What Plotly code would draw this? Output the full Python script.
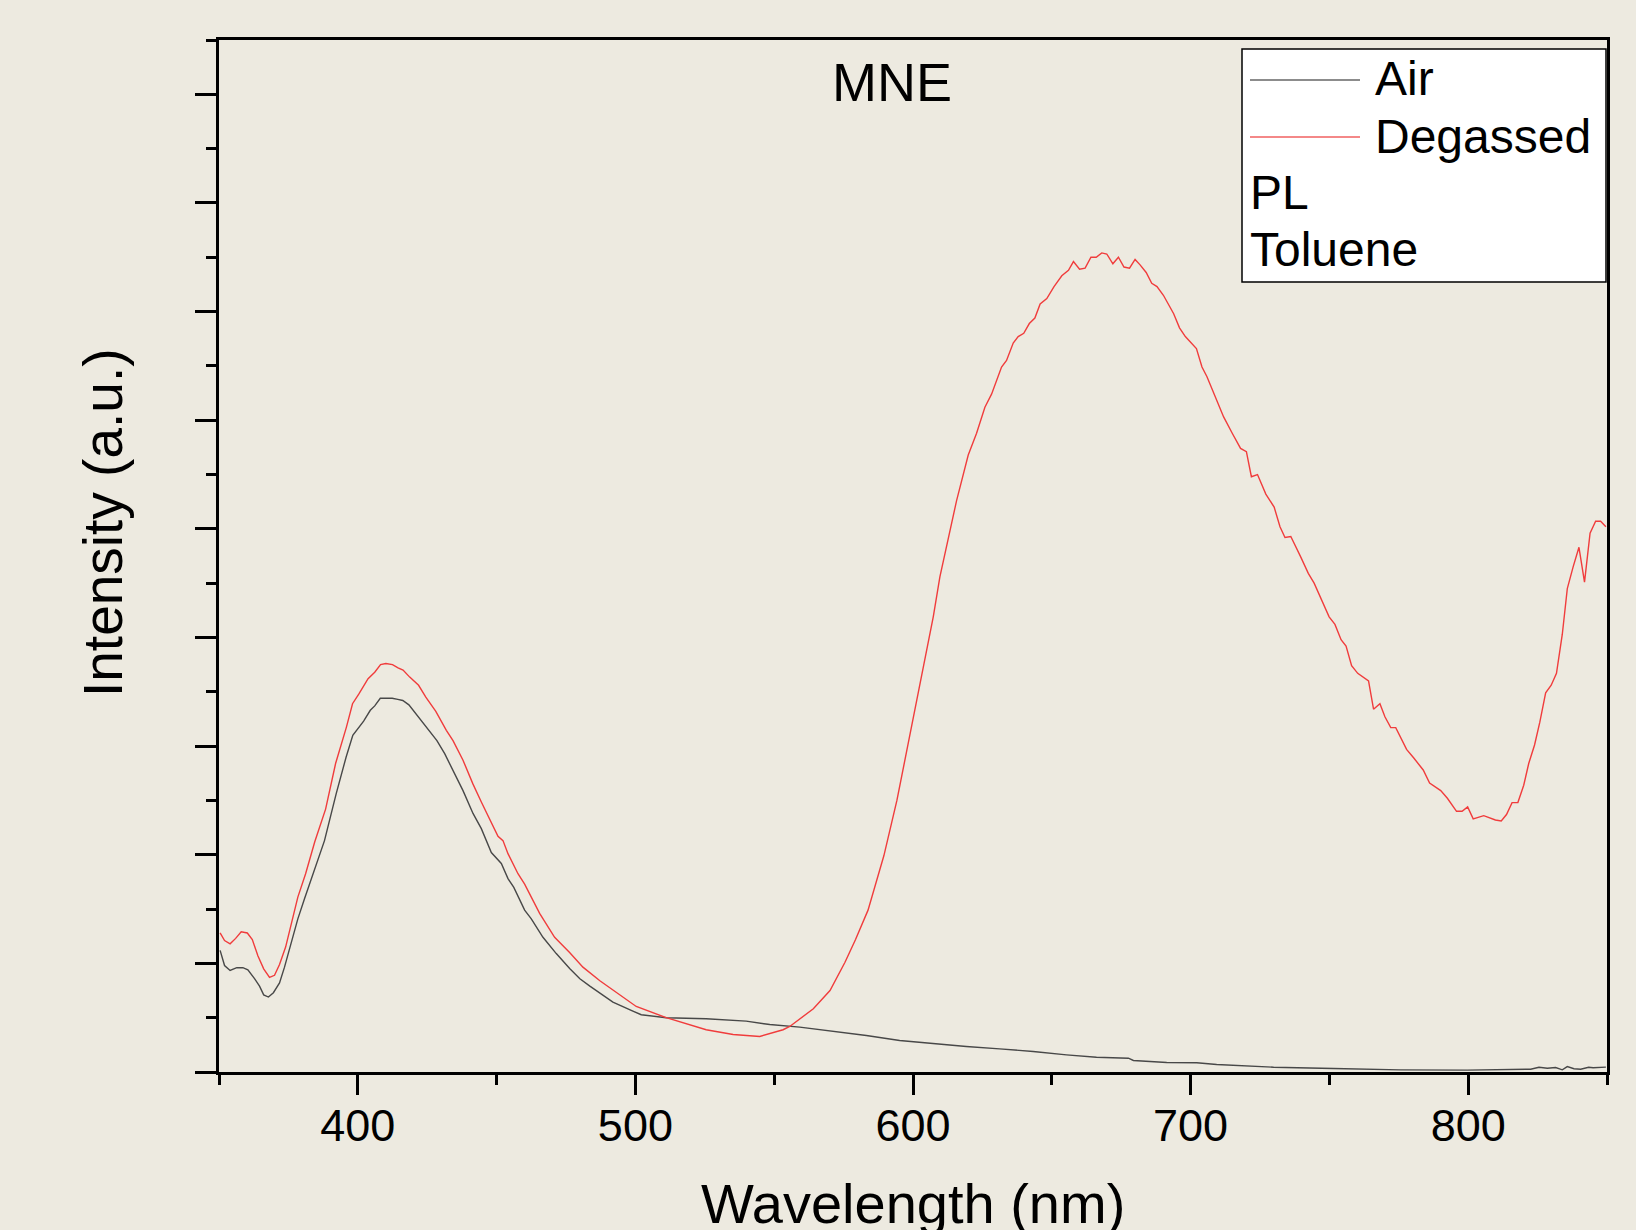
import plotly.graph_objects as go

# ---- data ----
air_nm = [350.4, 352, 354, 356.4, 358.6, 360.4, 362.8, 364.6, 366.1, 367.8, 369.6, 371.8, 373.6, 376,
          378.4, 380.8, 384.4, 388, 392.2, 395.8, 398.2, 400.4, 402.1, 404.5, 406.1, 408.1, 410.3, 412.4,
          414.4, 416.2, 418.4, 420.5, 423.5, 425.9, 428.5, 431.3, 434.1, 437.9, 441.5, 444.5, 448.1,
          451.7, 454.1, 456.2, 460.1, 462.5, 466.7, 471.5, 476.4, 480, 483.6, 487.2, 491.9, 499.1,
          502.1, 511.1, 525.5, 539.9, 548.4, 559.2, 571.2, 583.2, 595.2, 607.2, 619.2, 631.2, 643.3,
          655.3, 666.1, 677.6, 679.4, 691.4, 702.2, 709.4, 727.5, 729.9, 751.5, 775.5, 799.6, 822.5,
          825.5, 828.5, 831.5, 833.9, 835.7, 838.1, 840.5, 843.4, 845, 849.6]
air_int = [1.12, 0.98, 0.935, 0.96, 0.96, 0.94, 0.86, 0.79, 0.71, 0.69, 0.73, 0.82, 0.965, 1.195,
           1.41, 1.595, 1.855, 2.13, 2.56, 2.90, 3.10, 3.18, 3.23, 3.33, 3.37, 3.44, 3.44, 3.44,
           3.43, 3.42, 3.38, 3.31, 3.22, 3.13, 3.05, 2.93, 2.78, 2.59, 2.38, 2.24, 2.02,
           1.92, 1.78, 1.70, 1.49, 1.41, 1.24, 1.09, 0.95, 0.858, 0.79, 0.726, 0.643, 0.56,
           0.527, 0.50, 0.49, 0.468, 0.437, 0.413, 0.376, 0.336, 0.29, 0.26, 0.235, 0.213, 0.189,
           0.158, 0.136, 0.127, 0.106, 0.087, 0.085, 0.069, 0.053, 0.044, 0.032, 0.020, 0.017, 0.026,
           0.044, 0.035, 0.041, 0.02, 0.05, 0.03, 0.026, 0.044, 0.039, 0.045]

deg_nm = [350.4, 352, 354, 356, 358, 360.2, 362, 364, 366.1, 368.2, 370, 371.8, 374, 376, 378.4,
          381.2, 384.5, 388.4, 392, 395.9, 398.1, 400.4, 403.7, 406.1, 408.2, 410.1, 412.5, 414.5,
          416.3, 418.7, 421.9, 424.5, 428.1, 431.9, 434.3, 437.9, 441.5, 444.5, 446.3, 448.7, 450.5,
          452.3, 454.1, 457.7, 460.1, 465.5, 470.9, 476.3, 481.1, 487.2, 491.9, 500.3, 511.1, 525.5,
          535.2, 544.8, 553.2, 555.6, 564.1, 570.1, 575.5, 579.3, 583.8, 589.5, 594.2, 597.7, 602.5,
          607.3, 609.7, 613.3, 615.7, 619.9, 622.9, 625.9, 628.3, 631.9, 633.7, 636.1, 637.9, 639.9,
          641.9, 643.9, 645.8, 648.2, 650.8, 653.6, 656, 657.8, 660, 662, 664.1, 666, 668, 669.8,
          672, 674, 676, 678, 680, 681.8, 684, 686, 687.9, 690.2, 693.9, 696, 698.1, 702.1, 704.1,
          705.9, 708.9, 711.9, 715, 718, 720.1, 721.9, 724.1, 727.1, 730.1, 732.2, 734, 736.1, 739.7,
          742.4, 744.5, 749.9, 752, 754.2, 756, 758, 760.2, 764.1, 765.9, 768.2, 770, 772.1, 773.9,
          775.7, 777.8, 780.4, 783.8, 786.1, 790.1, 792.5, 795.8, 797.8, 799.8, 801.8, 805.6, 809.8,
          811.9, 813.8, 815.8, 817.9, 820, 821.8, 823.9, 825.8, 827.9, 829.9, 831.8, 833.9, 835.7,
          837.8, 839.9, 841.9, 843.9, 845.9, 847.7, 849.6]
deg_int = [1.28, 1.21, 1.18, 1.23, 1.29, 1.28, 1.22, 1.07, 0.95, 0.87, 0.89, 0.99, 1.15, 1.365, 1.61,
           1.825, 2.12, 2.42, 2.84, 3.175, 3.39, 3.48, 3.62, 3.68, 3.75, 3.76, 3.75, 3.72,
           3.70, 3.635, 3.56, 3.45, 3.32, 3.145, 3.05, 2.87, 2.65, 2.485, 2.39, 2.25, 2.17,
           2.13, 2.01, 1.825, 1.73, 1.46, 1.24, 1.10, 0.965, 0.84, 0.757, 0.603, 0.50, 0.389,
           0.345, 0.327, 0.389, 0.419, 0.582, 0.75, 1.01, 1.22, 1.49, 1.99, 2.50, 2.96, 3.57,
           4.19, 4.56, 4.99, 5.26, 5.68, 5.88, 6.12, 6.24, 6.49, 6.55, 6.71, 6.77, 6.80,
           6.89, 6.94, 7.07, 7.12, 7.23, 7.33, 7.38, 7.46, 7.39, 7.40, 7.50, 7.50, 7.54, 7.53,
           7.44, 7.50, 7.41, 7.40, 7.48, 7.43, 7.36, 7.26, 7.23, 7.15, 6.98, 6.85, 6.77, 6.66, 6.49,
           6.40, 6.21, 6.03, 5.88, 5.74, 5.71, 5.48, 5.50, 5.32, 5.20, 5.02, 4.92, 4.93, 4.74,
           4.59, 4.50, 4.19, 4.12, 3.98, 3.92, 3.74, 3.67, 3.60, 3.34, 3.39, 3.27, 3.17, 3.17,
           3.08, 2.97, 2.89, 2.78, 2.66, 2.59, 2.52, 2.40, 2.40, 2.44, 2.33, 2.36, 2.32,
           2.31, 2.37, 2.48, 2.48, 2.64, 2.84, 3.01, 3.22, 3.49, 3.56, 3.67, 4.03, 4.45,
           4.65, 4.83, 4.51, 4.96, 5.07, 5.07, 5.02]

series_names = ["Air", "Degassed"]
extra_legend_lines = ["PL", "Toluene"]
chart_title = "MNE"
x_title = "Wavelength (nm)"
y_title = "Intensity (a.u.)"

# ---- style ----
BG = "#EDEAE0"
AIR_C = "#484848"
DEG_C = "#F03C3C"
FONT = "Liberation Sans, Arial, sans-serif"

fig = go.Figure()
fig.add_trace(go.Scatter(x=air_nm, y=air_int, mode="lines", name=series_names[0],
                         line=dict(color=AIR_C, width=1.4), showlegend=False))
fig.add_trace(go.Scatter(x=deg_nm, y=deg_int, mode="lines", name=series_names[1],
                         line=dict(color=DEG_C, width=1.4), showlegend=False))

W, H = 1636, 1230
ML, MR, MT, MB = 219, 29, 40, 158
pw = W - ML - MR
ph = H - MT - MB

def px(xf):
    return (xf - ML) / pw

def py(yf):
    return (H - MB - yf) / ph

axis_common = dict(showline=True, linecolor="black", linewidth=3, mirror=True,
                   showgrid=False, zeroline=False, ticks="outside", tickcolor="black",
                   tickwidth=3)

fig.update_xaxes(range=[350, 850], tick0=0, dtick=100, ticklen=20,
                 tickfont=dict(family=FONT, size=45, color="black"),
                 ticklabelstandoff=-8,
                 minor=dict(tick0=0, dtick=50, ticklen=10, tickwidth=3, ticks="outside",
                            tickcolor="black"),
                 **axis_common)
fig.update_yaxes(range=[0, 9.5], tick0=0, dtick=1, ticklen=21, showticklabels=False,
                 minor=dict(tick0=0, dtick=0.5, ticklen=10, tickwidth=3, ticks="outside",
                            tickcolor="black"),
                 **axis_common)

shapes = []
annotations = []
# legend box
shapes.append(dict(type="rect", xref="paper", yref="paper",
                   x0=px(1242), x1=px(1606), y0=py(282), y1=py(49),
                   line=dict(color="black", width=1.5), fillcolor="white", layer="above"))
legend_rows_y = [77, 134, 190, 247]
shapes.append(dict(type="line", xref="paper", yref="paper", x0=px(1250), x1=px(1360),
                   y0=py(80), y1=py(80), line=dict(color="#666666", width=1.5), layer="above"))
shapes.append(dict(type="line", xref="paper", yref="paper", x0=px(1250), x1=px(1360),
                   y0=py(137), y1=py(137), line=dict(color="#F06060", width=1.5), layer="above"))
for name, yy in zip(series_names, legend_rows_y[:2]):
    annotations.append(dict(text=name, xref="paper", yref="paper", x=px(1373), y=py(yy + 2),
                            xanchor="left", yanchor="middle", showarrow=False,
                            font=dict(family=FONT, size=48, color="black")))
for name, yy in zip(extra_legend_lines, legend_rows_y[2:]):
    annotations.append(dict(text=name, xref="paper", yref="paper", x=px(1248), y=py(yy + 2),
                            xanchor="left", yanchor="middle", showarrow=False,
                            font=dict(family=FONT, size=48, color="black")))
# title
annotations.append(dict(text=chart_title, xref="paper", yref="paper", x=px(892), y=py(82),
                        xanchor="center", yanchor="middle", showarrow=False,
                        font=dict(family=FONT, size=54, color="black")))
# axis titles
annotations.append(dict(text=x_title, xref="paper", yref="paper", x=px(913), y=py(1170),
                        xanchor="center", yanchor="top", showarrow=False,
                        font=dict(family=FONT, size=56, color="black")))
annotations.append(dict(text=y_title, xref="paper", yref="paper", x=px(103), y=py(523),
                        xanchor="center", yanchor="middle", textangle=-90, showarrow=False,
                        font=dict(family=FONT, size=55, color="black")))

fig.update_layout(width=W, height=H, margin=dict(l=ML, r=MR, t=MT, b=MB, pad=0),
                  paper_bgcolor=BG, plot_bgcolor=BG, showlegend=False,
                  shapes=shapes, annotations=annotations,
                  font=dict(family=FONT, color="black"))

fig.write_html("out.html")
